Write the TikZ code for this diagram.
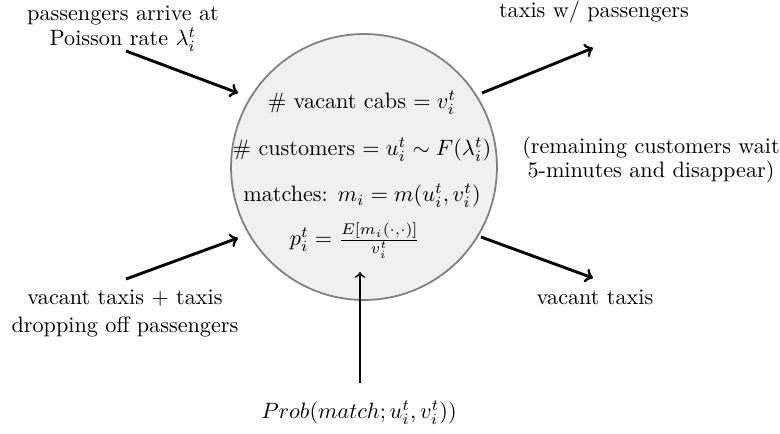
\documentclass[tikz,border=0pt]{standalone}
\usepackage{amsmath}
\begin{document}
\begin{tikzpicture}[x=0.4505pt,y=-0.4505pt,
  flow/.style={->, >=to, line width=1.3pt},
  thinflow/.style={->, >=to, line width=0.8pt},
  lbl/.style={inner sep=0pt, font=\normalsize},
  hub/.style={circle, draw=black!50, line width=0.8pt, fill=black!6, minimum size=119.8pt, inner sep=0pt}]
\useasboundingbox (0,0) rectangle (780,433);
% central circle
\node[hub] (hub) at (364,167) {};
\node[lbl] (l1) at (362,103) {\# vacant cabs $= v_i^t$};
\node[lbl] (l2) at (362,150) {\# customers $= u_i^t \sim F(\lambda_i^t)$};
\node[lbl] (l3) at (362,196) {matches: $m_i = m(u_i^t, v_i^t)$};
\node[lbl] (l4) at (355,241) {$p_i^t = \frac{E[m_i(\cdot,\cdot)]}{v_i^t}$};
% outside texts
\node[lbl] (tl1) at (123,15) {passengers arrive at};
\node[lbl] (tl2) at (123,40) {Poisson rate $\lambda_i^t$};
\node[lbl] (tr) at (594,12) {taxis w/ passengers};
\node[lbl] (r1) at (651,148) {(remaining customers wait};
\node[lbl] (r2) at (651,172) {5-minutes and disappear)};
\node[lbl] (br) at (595,297) {vacant taxis};
\node[lbl] (bl1) at (125,298) {vacant taxis + taxis};
\node[lbl] (bl2) at (125,327) {dropping off passengers};
\node[lbl] (bt) at (359,413) {$Prob(match; u_i^t, v_i^t))$};
% arrow end points
\coordinate (a1s) at (126,51);  \coordinate (a1e) at (238,93);
\coordinate (a2s) at (126,279); \coordinate (a2e) at (238,238);
\coordinate (a3s) at (482,93);  \coordinate (a3e) at (593,48);
\coordinate (a4s) at (481,237); \coordinate (a4e) at (593,278);
\coordinate (a5s) at (360,383); \coordinate (a5e) at (360,272);
\draw[flow] (a1s) -- (a1e);
\draw[flow] (a2s) -- (a2e);
\draw[flow] (a3s) -- (a3e);
\draw[flow] (a4s) -- (a4e);
\draw[thinflow] (a5s) -- (a5e);
\end{tikzpicture}
\end{document}
